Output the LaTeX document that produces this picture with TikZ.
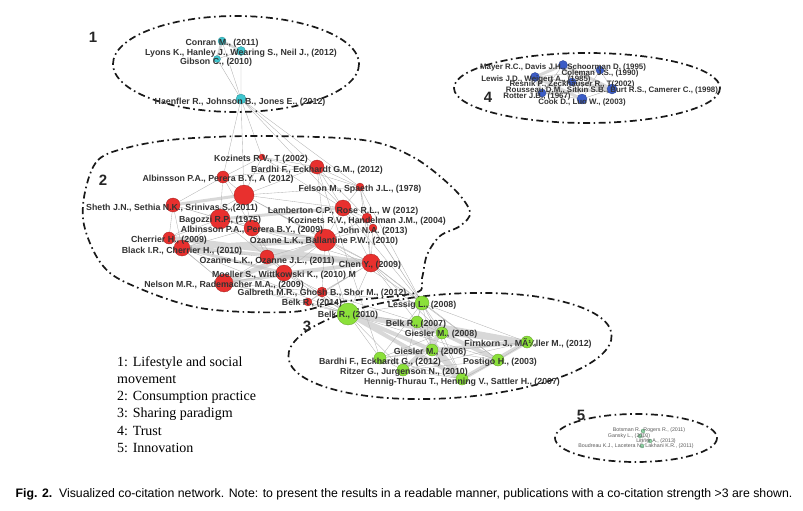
\documentclass[tikz,border=0pt]{standalone}
\usepackage{fontspec}
\setmainfont{Liberation Sans}
\newfontfamily\legendfont{Liberation Serif}
\usetikzlibrary{shapes,backgrounds,calc}

\definecolor{lifecol}{HTML}{3FC6CF}
\definecolor{conscol}{HTML}{E8302E}
\definecolor{sharecol}{HTML}{8BE03A}
\definecolor{trustcol}{HTML}{3B5CC6}
\definecolor{innocol}{HTML}{8ED6A6}

\begin{document}
\begin{tikzpicture}[x=1pt, y=-1pt,
    pub/.style={circle, draw=#1!70!black, fill=#1, inner sep=0pt, line width=0.3pt},
    lbl/.style={font=\fontsize{8.8}{9}\selectfont\bfseries, text=black!80, inner sep=0pt},
    smalllbl/.style={lbl, font=\fontsize{7.9}{9}\selectfont\bfseries},
    tinylbl/.style={font=\fontsize{5.3}{6}\selectfont, text=black!65, inner sep=0pt},
    num/.style={font=\fontsize{15}{15}\selectfont\bfseries, text=black!85, inner sep=0pt},
    edge/.style={draw=black!30, line width=0.35pt},
    heavy/.style={draw=black!22, line width=#1, opacity=0.7},
    heavy/.default=3pt,
    cluster/.style={draw=black!90, line width=1.7pt, dash pattern=on 7pt off 3.5pt on 1.6pt off 3.5pt}
]
\useasboundingbox (0,0) rectangle (803,511);

% cluster outlines
\draw [cluster] (236,64) ellipse [x radius=123, y radius=48];
\draw [cluster] (587,88) ellipse [x radius=133, y radius=35];
\draw [cluster, rotate around={4:(450,346)}] (450,346) ellipse [x radius=162, y radius=52];
\draw [cluster] (636,438) ellipse [x radius=81, y radius=24];
\draw [cluster] plot [smooth cycle, tension=0.55] coordinates {(85,192) (98,160) (130,147) (180,139) (260,136) (363,140) (413,157) (453,188) (470,212) (460,226) (440,236) (427,255) (422,278) (415,293) (340,302) (290,312) (200,308) (127,283) (100,262) (84,225)};

\node [num] (n1) at (93,37) {1};
\node [num] (n2) at (103,180) {2};
\node [num] (n3) at (307,326) {3};
\node [num] (n4) at (488,97) {4};
\node [num] (n5) at (581,415) {5};

% 1: lifestyle and social movement
\node [pub=lifecol, minimum size=8pt] (conran) at (222,41) {};
\node [pub=lifecol, minimum size=9pt] (lyons) at (241,51) {};
\node [pub=lifecol, minimum size=7pt] (gibson) at (217,59) {};
\node [pub=lifecol, minimum size=10pt] (haenfler) at (241,99) {};

% 4: trust
\node [pub=trustcol, minimum size=9pt] (mayer) at (563,65) {};
\node [pub=trustcol, minimum size=8pt] (coleman) at (600,70) {};
\node [pub=trustcol, minimum size=9pt] (lewis) at (535,77) {};
\node [pub=trustcol, minimum size=8pt] (resnik) at (572,82) {};
\node [pub=trustcol, minimum size=10pt] (rousseau) at (612,89) {};
\node [pub=trustcol, minimum size=8pt] (rotter) at (542,93) {};
\node [pub=trustcol, minimum size=10pt] (cook) at (582,99) {};

% 2: consumption practice
\node [pub=conscol, minimum size=6pt] (kozinets02) at (262,157) {};
\node [pub=conscol, minimum size=14pt] (bardhi) at (317,167) {};
\node [pub=conscol, minimum size=12pt] (albinsson12) at (223,177) {};
\node [pub=conscol, minimum size=20pt] (hub) at (244,195) {};
\node [pub=conscol, minimum size=8pt] (felson) at (360,187) {};
\node [pub=conscol, minimum size=14pt] (sheth) at (173,205) {};
\node [pub=conscol, minimum size=16pt] (lamberton) at (343,208) {};
\node [pub=conscol, minimum size=20pt] (bagozzi) at (220,219) {};
\node [pub=conscol, minimum size=10pt] (kozinets04) at (367,218) {};
\node [pub=conscol, minimum size=16pt] (albinsson09) at (252,228) {};
\node [pub=conscol, minimum size=8pt] (john) at (373,228) {};
\node [pub=conscol, minimum size=22pt] (ozanne10) at (325,240) {};
\node [pub=conscol, minimum size=12pt] (cherrier) at (169,238) {};
\node [pub=conscol, minimum size=16pt] (black) at (182,248) {};
\node [pub=conscol, minimum size=14pt] (ozanne11) at (267,257) {};
\node [pub=conscol, minimum size=18pt] (chen) at (371,263) {};
\node [pub=conscol, minimum size=16pt] (moeller) at (284,273) {};
\node [pub=conscol, minimum size=18pt] (nelson) at (224,283) {};
\node [pub=conscol, minimum size=10pt] (galbreth) at (322,292) {};
\node [pub=conscol, minimum size=8pt] (belk14) at (308,302) {};

% 3: sharing paradigm
\node [pub=sharecol, minimum size=14pt] (lessig) at (422,303) {};
\node [pub=sharecol, minimum size=22pt] (belk10) at (348,314) {};
\node [pub=sharecol, minimum size=12pt] (belk07) at (417,322) {};
\node [pub=sharecol, minimum size=12pt] (giesler08) at (442,333) {};
\node [pub=sharecol, minimum size=12pt] (firnkorn) at (527,342) {};
\node [pub=sharecol, minimum size=12pt] (giesler06) at (432,350) {};
\node [pub=sharecol, minimum size=12pt] (bardhi3) at (380,358) {};
\node [pub=sharecol, minimum size=12pt] (postigo) at (498,360) {};
\node [pub=sharecol, minimum size=12pt] (ritzer) at (403,370) {};
\node [pub=sharecol, minimum size=12pt] (hennig) at (462,379) {};

% 5: innovation
\node [pub=innocol, minimum size=4pt] (botsman) at (643,431) {};
\node [pub=innocol, minimum size=4pt] (gansky) at (640,436) {};
\node [pub=innocol, minimum size=4pt] (linner) at (650,441) {};
\node [pub=innocol, minimum size=4pt] (boudreau) at (642,446) {};

% co-citation links
\begin{scope}[on background layer]
\path [heavy=2.5pt] (conran) -- (lyons) (conran) -- (gibson);
\path [edge] (conran) -- (haenfler) (lyons) -- (haenfler) (gibson) -- (haenfler) (lyons) -- (gibson);
\path [edge] (haenfler) -- (kozinets02) (haenfler) -- (hub) (haenfler) -- (albinsson12) (haenfler) -- (bardhi) (haenfler) -- (felson) (haenfler) -- (lamberton);

\path [heavy=3pt] (mayer) -- (lewis) (mayer) -- (resnik) (lewis) -- (rotter) (resnik) -- (rousseau) (mayer) -- (rousseau) (lewis) -- (cook) (rotter) -- (rousseau);
\path [edge] (mayer) -- (coleman) (mayer) -- (rotter) (mayer) -- (cook) (coleman) -- (lewis) (coleman) -- (resnik) (coleman) -- (rousseau) (coleman) -- (cook) (lewis) -- (resnik) (lewis) -- (rousseau) (resnik) -- (rotter) (resnik) -- (cook) (rousseau) -- (cook) (rotter) -- (cook);

\path [heavy=5pt] (cherrier) -- (chen) (black) -- (ozanne10) (nelson) -- (ozanne10);
\path [heavy=3pt] (bagozzi) -- (lamberton) (albinsson09) -- (ozanne10) (black) -- (chen) (ozanne11) -- (chen) (sheth) -- (hub) (moeller) -- (chen) (black) -- (moeller) (nelson) -- (chen);
\path [edge] (kozinets02) -- (bardhi) (kozinets02) -- (hub) (kozinets02) -- (albinsson12) (kozinets02) -- (lamberton) (kozinets02) -- (felson);
\path [edge] (bardhi) -- (hub) (bardhi) -- (felson) (bardhi) -- (lamberton) (bardhi) -- (albinsson12) (bardhi) -- (kozinets04) (bardhi) -- (ozanne10);
\path [edge] (albinsson12) -- (hub) (albinsson12) -- (sheth) (albinsson12) -- (bagozzi) (albinsson12) -- (albinsson09);
\path [edge] (hub) -- (bagozzi) (hub) -- (lamberton) (hub) -- (felson) (hub) -- (albinsson09) (hub) -- (ozanne10) (hub) -- (chen) (hub) -- (cherrier);
\path [edge] (felson) -- (lamberton) (felson) -- (kozinets04) (felson) -- (chen);
\path [edge] (sheth) -- (bagozzi) (sheth) -- (cherrier) (sheth) -- (black) (sheth) -- (albinsson09);
\path [edge] (lamberton) -- (kozinets04) (lamberton) -- (john) (lamberton) -- (ozanne10) (lamberton) -- (chen);
\path [edge] (bagozzi) -- (albinsson09) (bagozzi) -- (black) (bagozzi) -- (cherrier) (bagozzi) -- (ozanne10) (bagozzi) -- (ozanne11);
\path [edge] (kozinets04) -- (john) (kozinets04) -- (ozanne10) (kozinets04) -- (chen);
\path [edge] (albinsson09) -- (black) (albinsson09) -- (ozanne11) (albinsson09) -- (moeller) (albinsson09) -- (chen);
\path [edge] (john) -- (ozanne10) (john) -- (chen);
\path [edge] (ozanne10) -- (chen) (ozanne10) -- (ozanne11) (ozanne10) -- (moeller) (ozanne10) -- (galbreth);
\path [edge] (cherrier) -- (black) (cherrier) -- (nelson) (black) -- (ozanne11) (black) -- (nelson);
\path [edge] (ozanne11) -- (moeller) (ozanne11) -- (nelson) (chen) -- (galbreth) (chen) -- (belk14);
\path [edge] (moeller) -- (nelson) (moeller) -- (galbreth) (nelson) -- (galbreth) (nelson) -- (belk14) (galbreth) -- (belk14);

\path [heavy=4pt] (belk10) -- (giesler06) (belk10) -- (hennig) (belk10) -- (firnkorn) (belk07) -- (firnkorn) (giesler08) -- (firnkorn) (giesler06) -- (firnkorn) (hennig) -- (firnkorn) (giesler06) -- (hennig) (belk07) -- (hennig) (giesler08) -- (ritzer) (giesler08) -- (postigo) (belk10) -- (giesler08);
\path [edge] (belk10) -- (lessig) (belk10) -- (belk07) (belk10) -- (bardhi3) (belk10) -- (ritzer) (belk10) -- (postigo);
\path [edge] (lessig) -- (belk07) (lessig) -- (giesler08) (lessig) -- (firnkorn) (lessig) -- (giesler06) (lessig) -- (hennig) (lessig) -- (postigo) (lessig) -- (ritzer) (lessig) -- (bardhi3);
\path [edge] (firnkorn) -- (bardhi3) (firnkorn) -- (ritzer) (firnkorn) -- (postigo);
\path [edge] (giesler08) -- (giesler06) (giesler08) -- (belk07) (giesler08) -- (hennig) (giesler08) -- (bardhi3);
\path [edge] (giesler06) -- (postigo) (giesler06) -- (ritzer) (giesler06) -- (bardhi3) (giesler06) -- (belk07);
\path [edge] (postigo) -- (hennig) (postigo) -- (ritzer) (ritzer) -- (hennig) (bardhi3) -- (ritzer) (bardhi3) -- (hennig);

\path [edge] (lessig) -- (chen) (lessig) -- (john) (lessig) -- (kozinets04) (lessig) -- (lamberton) (lessig) -- (ozanne10) (lessig) -- (galbreth) (lessig) -- (felson);
\path [edge] (belk10) -- (nelson) (belk10) -- (moeller) (belk10) -- (galbreth) (belk10) -- (belk14) (belk10) -- (ozanne11) (belk10) -- (chen) (belk10) -- (ozanne10) (belk10) -- (black);
\path [edge] (belk07) -- (chen) (belk07) -- (galbreth) (giesler08) -- (chen) (bardhi3) -- (bardhi) (postigo) -- (chen);

\path [edge] (botsman) -- (gansky) (botsman) -- (linner) (gansky) -- (linner) (gansky) -- (boudreau) (linner) -- (boudreau) (botsman) -- (boudreau);
\end{scope}

% labels
\node [lbl] (conran-l) at (222,43) {Conran M., (2011)};
\node [lbl] (lyons-l) at (241,53) {Lyons K., Hanley J., Wearing S., Neil J., (2012)};
\node [lbl] (gibson-l) at (216,62) {Gibson C., (2010)};
\node [lbl] (haenfler-l) at (240,102) {Haenfler R., Johnson B., Jones E., (2012)};

\node [smalllbl] (mayer-l) at (563,67) {Mayer R.C., Davis J.H., Schoorman D. (1995)};
\node [smalllbl] (coleman-l) at (600,73) {Coleman J.S., (1990)};
\node [smalllbl] (lewis-l) at (536,79) {Lewis J.D., Weigert A., (1985)};
\node [smalllbl] (resnik-l) at (572,84) {Resnik P., Zeckhauser R., T(2002)};
\node [smalllbl] (rousseau-l) at (612,90) {Rousseau D.M., Sitkin S.B., Burt R.S., Camerer C., (1998)};
\node [smalllbl] (rotter-l) at (537,96) {Rotter J.B., (1967)};
\node [smalllbl] (cook-l) at (582,102) {Cook D., Luo W.,  (2003)};

\node [lbl] (kozinets02-l) at (261,159) {Kozinets R.V., T (2002)};
\node [lbl] (bardhi-l) at (317,170) {Bardhi F., Eckhardt G.M.,  (2012)};
\node [lbl] (albinsson12-l) at (218,179) {Albinsson P.A., Perera B.Y., A (2012)};
\node [lbl] (felson-l) at (360,189) {Felson M., Spaeth J.L.,  (1978)};
\node [lbl] (sheth-l) at (172,208) {Sheth J.N., Sethia N.K., Srinivas S.,(2011)};
\node [lbl] (lamberton-l) at (343,211) {Lamberton C.P., Rose R.L., W (2012)};
\node [lbl] (bagozzi-l) at (220,220) {Bagozzi R.P., (1975)};
\node [lbl] (kozinets04-l) at (367,221) {Kozinets R.V., Handelman J.M.,  (2004)};
\node [lbl] (albinsson09-l) at (252,230) {Albinsson P.A., Perera B.Y., (2009)};
\node [lbl] (john-l) at (373,231) {John N.A. (2013)};
\node [lbl] (ozanne10-l) at (324,241) {Ozanne L.K., Ballantine P.W.,  (2010)};
\node [lbl] (cherrier-l) at (169,240) {Cherrier H., (2009)};
\node [lbl] (black-l) at (182,251) {Black I.R., Cherrier H., (2010)};
\node [lbl] (ozanne11-l) at (267,261) {Ozanne L.K., Ozanne J.L., (2011)};
\node [lbl] (chen-l) at (370,265) {Chen Y., (2009)};
\node [lbl] (moeller-l) at (284,275) {Moeller S., Wittkowski K., (2010) M};
\node [lbl] (nelson-l) at (224,285) {Nelson M.R., Rademacher M.A., (2009)};
\node [lbl] (galbreth-l) at (322,293) {Galbreth M.R., Ghosh B., Shor M.,  (2012)};
\node [lbl] (belk14-l) at (312,303) {Belk R., (2014)};

\node [lbl] (lessig-l) at (422,305) {Lessig L., (2008)};
\node [lbl] (belk10-l) at (348,315) {Belk R., (2010)};
\node [lbl] (belk07-l) at (416,324) {Belk R., (2007)};
\node [lbl] (giesler08-l) at (441,334) {Giesler M., (2008)};
\node [lbl] (firnkorn-l) at (528,343) {Firnkorn J., MÃ¼ller M., (2012)};
\node [lbl] (giesler06-l) at (430,352) {Giesler M., (2006)};
\node [lbl] (bardhi3-l) at (380,362) {Bardhi F., Eckhardt G.,  (2012)};
\node [lbl] (postigo-l) at (500,362) {Postigo H., (2003)};
\node [lbl] (ritzer-l) at (404,372) {Ritzer G., Jurgenson N.,  (2010)};
\node [lbl] (hennig-l) at (462,382) {Hennig-Thurau T., Henning V., Sattler H., (2007)};

\node [tinylbl] (botsman-l) at (649,430.5) {Botsman R., Rogers R., (2011)};
\node [tinylbl] (gansky-l) at (629,436) {Gansky L., (2010)};
\node [tinylbl] (linner-l) at (656,441) {Linner A., (2013)};
\node [tinylbl] (boudreau-l) at (636,446.5) {Boudreau K.J., Lacetera N., Lakhani K.R., (2011)};

% legend and caption
\node [anchor=north west, align=left, inner sep=0pt, font=\legendfont\fontsize{14}{17.3}\selectfont] (legend) at (117,356) {1: Lifestyle and social\\movement\\2: Consumption practice\\3: Sharing paradigm\\4: Trust\\5: Innovation};
\node [inner sep=0pt, font=\fontsize{12.3}{13}\selectfont] (caption) at (404,494) {\textbf{Fig. 2.}\ \ Visualized co-citation network. Note: to present the results in a readable manner, publications with a co-citation strength >3 are shown.};

\end{tikzpicture}
\end{document}
